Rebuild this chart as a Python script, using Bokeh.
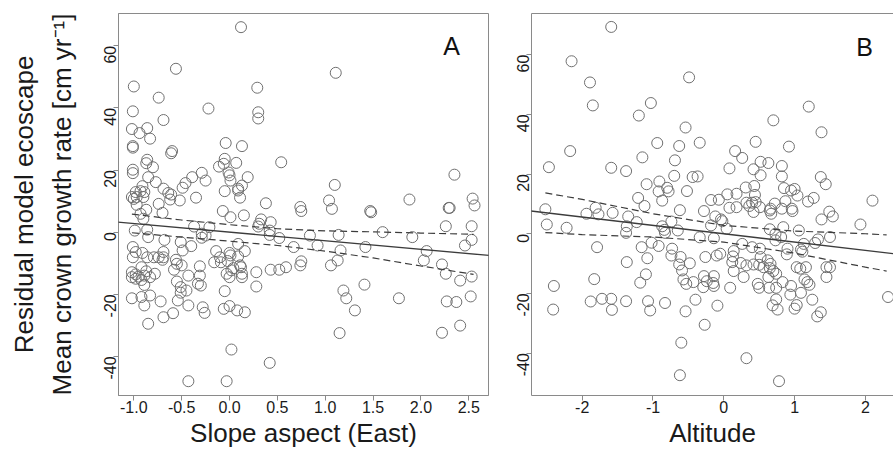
import math
from bokeh.plotting import figure
from bokeh.models import Range1d, LinearAxis, FixedTicker, Slope, Label, PrintfTickFormatter
from bokeh.layouts import row
from bokeh.embed import file_html
from bokeh.resources import INLINE

# ---------------- data ----------------
aspect_x = [
    0.12, -0.56, 1.11, -1.00, 0.29, -0.74, -0.22, -1.01, 0.30, 0.30,
    -0.69, -1.02, -0.86, -0.94, -0.83, -0.04, -1.01, -1.01, 0.13, -0.60,
    -0.61, -0.86, -0.05, -0.87, -0.06, 0.07, 0.54, -0.80, -0.11, -1.01,
    -1.01, -0.01, -0.29, 0.00, -0.85, -0.39, 0.19, -0.25, 0.01, -0.46,
    -0.77, 0.13, 1.10, -0.91, -0.49, -0.69, 0.09, -0.05, 0.09, -0.98,
    -0.93, -0.89, -0.64, -0.61, -1.02, -0.97, -0.90, -1.00, 0.11, -0.62,
    -0.52, -0.35, 1.04, 1.88, 0.38, -0.97, -0.74, 1.07, 0.74, 0.75,
    2.29, 2.30, -0.87, 1.47, 1.48, -0.07, -0.70, 0.15, 0.01, -0.93,
    0.33, 0.43, -0.90, 0.31, -0.37, -0.21, 0.30, 2.26, -0.99, -0.86,
    0.42, 1.60, -0.29, -0.25, 0.42, 1.14, 0.84, 1.91, -0.85, 0.52,
    -0.68, -0.29, 0.09, -0.51, -0.40, -1.01, 0.67, 0.92, 1.42, 1.16,
    2.06, -0.49, -0.98, -0.91, -0.14, 0.00, 0.16, 0.01, -1.01, -0.86,
    -0.79, -0.74, -0.69, -0.69, 0.09, -0.56, -0.70, -0.10, -0.09, -0.02,
    -0.16, 2.03, -0.55, 0.75, 0.74, -0.31, -0.50, 0.11, 1.06, 1.13,
    2.22, 0.12, -0.58, 0.04, 0.43, 0.52, 0.59, 0.02, -1.02, -0.92,
    -0.98, -0.87, -0.78, 0.13, 0.28, 2.26, -0.95, -0.89, -0.43, -0.31,
    -0.03, -1.02, -0.83, 0.00, 0.13, -0.98, -0.92, -0.55, -0.30, -0.33,
    -0.89, -0.51, 0.28, 1.41, 1.19, -0.51, -0.05, -1.02, -0.92, -0.83,
    1.22, 1.77, -0.45, -0.54, -0.72, 2.27, 2.37, -0.89, -0.43, -0.28,
    0.00, -0.06, 0.08, -0.26, 0.16, 1.31, -0.59, -0.69, -0.85, 2.41,
    1.15, 2.22, 0.02, 0.42, -0.43, -0.03, 2.41, 2.54, 2.56, 2.53,
    2.53, 2.46, 2.53, 2.52, 2.35,
]
aspect_y = [
    66.0, 52.6, 51.3, 46.9, 46.5, 43.3, 39.8, 38.9, 38.6, 36.6,
    36.1, 33.2, 33.5, 31.9, 30.1, 28.7, 27.7, 27.2, 27.7, 26.1,
    25.4, 23.3, 23.6, 22.2, 22.0, 22.3, 22.5, 20.9, 21.1, 20.1,
    19.0, 19.2, 19.1, 18.3, 17.7, 17.7, 17.7, 16.6, 16.6, 15.8,
    16.1, 15.0, 15.2, 14.8, 14.3, 14.0, 14.0, 13.2, 13.4, 12.9,
    13.2, 12.9, 12.6, 12.1, 11.3, 11.3, 11.3, 10.7, 11.1, 10.5,
    10.2, 11.1, 10.2, 10.5, 9.3, 8.8, 9.1, 7.5, 8.1, 6.8,
    7.8, 7.8, 7.2, 6.8, 6.4, 6.8, 6.2, 5.4, 4.8, 5.9,
    4.1, 3.2, 4.3, 2.7, 1.8, 1.6, 1.8, 1.9, 0.5, 0.8,
    0.5, 0.0, -0.5, -1.1, -0.9, -0.9, -1.1, -1.6, -1.6, -1.9,
    -2.5, -1.8, -3.8, -3.2, -4.5, -4.8, -4.8, -4.3, -4.8, -5.9,
    -6.1, -5.9, -6.4, -6.7, -6.1, -6.7, -6.1, -7.5, -8.1, -8.1,
    -8.1, -8.1, -8.1, -6.4, -7.8, -8.9, -8.9, -8.1, -9.7, -9.3,
    -9.7, -9.1, -10.2, -9.4, -10.7, -11.0, -10.7, -10.7, -10.7, -9.1,
    -10.4, -11.3, -12.1, -11.6, -12.1, -12.1, -11.3, -12.3, -12.9, -11.3,
    -13.6, -12.6, -13.4, -13.4, -12.9, -13.4, -14.3, -14.0, -14.0, -14.0,
    -13.4, -14.5, -14.5, -14.5, -14.5, -15.0, -15.4, -15.9, -17.2, -16.6,
    -17.0, -17.7, -17.5, -16.9, -18.8, -19.5, -19.0, -21.3, -20.9, -20.4,
    -21.3, -21.3, -18.8, -22.0, -22.3, -22.3, -22.5, -23.6, -23.6, -24.2,
    -23.8, -24.7, -25.2, -26.0, -25.8, -25.2, -26.1, -27.4, -29.5, -30.1,
    -32.5, -32.4, -37.8, -42.1, -48.0, -48.0, -15.6, 10.8, 8.6, 1.9,
    -2.5, -4.3, -14.3, -20.7, 18.5,
]

alt_x = [
    -1.59, -2.15, -0.49, -1.89, -1.85, -1.03, 1.20, -1.20, 0.70, -0.54,
    1.38, -0.94, -0.34, 0.45, -0.63, 0.92, -2.17, 0.16, 0.26, -1.15,
    -0.69, 0.52, 0.63, -2.47, -1.59, 0.82, -1.38, 0.08, 0.42, -0.70,
    0.52, -0.44, -0.37, 0.82, 1.37, -1.09, -0.91, 1.44, 0.43, 0.31,
    0.85, -0.80, -0.92, -0.78, -0.52, 0.95, 1.00, 0.18, 1.04, 0.05,
    0.44, -1.21, 1.27, -0.18, -0.07, -0.87, 2.10, 0.32, 0.40, 0.87,
    1.19, -1.12, 0.36, 0.45, 0.72, 0.08, 0.18, -1.81, 0.51, 0.66,
    0.82, -2.52, 0.96, 0.65, 0.97, -0.62, 0.42, 0.67, -0.28, -1.57,
    -1.94, -1.77, 1.49, 1.54, -0.12, -1.35, 1.38, -0.04, -0.02, -1.23,
    -0.74, -0.18, -2.50, 1.93, -1.37, -0.87, 0.84, -2.22, -0.84, -0.65,
    0.04, 0.65, 1.06, -1.38, -0.83, 0.73, -0.34, -0.14, 0.81, 1.50,
    1.33, 0.73, -1.02, -0.92, 1.13, 1.29, 0.26, -1.16, 0.40, -0.73,
    0.51, -1.79, 0.90, 1.09, 0.14, 1.11, -0.74, -0.10, -0.05, -0.61,
    0.13, -0.26, -1.08, 0.89, 0.52, 0.62, 0.12, 0.24, -0.48, -0.63,
    0.42, 0.32, 0.50, 0.66, 0.56, -1.37, 1.50, 0.65, 0.70, 1.03,
    1.08, 1.16, -0.59, 0.14, -1.10, 0.74, 0.28, 1.45, -0.28, -0.14,
    0.63, -0.57, -1.83, 1.14, -0.43, -0.24, -0.53, -1.18, -0.15, 0.83,
    0.48, 1.18, 1.21, -0.14, 0.50, 0.95, 0.09, -0.29, -2.40, 0.64,
    0.74, 1.09, 0.94, -1.88, -1.72, -1.59, -1.38, -1.07, -0.83, -0.40,
    0.74, 1.25, 2.32, -2.41, -1.58, -1.04, -0.54, -0.09, 0.69, 0.76,
    1.00, 1.03, 1.37, 1.32, -0.27, -0.60, 0.32, -0.62, 0.78, 1.45,
]
alt_y = [
    69.3, 57.8, 52.4, 50.7, 43.0, 43.8, 42.6, 39.6, 38.0, 35.6,
    34.0, 30.4, 30.5, 30.8, 29.4, 29.2, 27.7, 27.7, 25.4, 25.6,
    24.6, 24.1, 23.7, 22.3, 22.1, 22.7, 21.0, 21.9, 21.6, 19.4,
    19.6, 19.0, 19.2, 19.2, 19.0, 16.6, 17.5, 16.6, 16.0, 15.5,
    15.3, 15.4, 14.2, 14.2, 14.3, 14.5, 15.0, 13.4, 12.8, 13.2,
    13.0, 12.0, 12.0, 11.3, 11.4, 11.1, 11.1, 10.4, 10.4, 10.9,
    10.8, 9.3, 9.3, 10.6, 10.1, 8.7, 8.9, 8.7, 8.9, 8.4,
    8.4, 8.2, 8.4, 7.8, 7.6, 7.9, 7.3, 6.7, 7.6, 7.0,
    6.7, 6.5, 7.4, 5.8, 5.8, 5.8, 4.8, 4.8, 4.2, 3.9,
    4.1, 2.8, 3.1, 3.1, 2.5, 2.5, 2.2, 2.0, 1.3, 1.1,
    1.7, 1.5, 1.1, 0.3, 0.3, 0.0, -1.2, -1.5, -1.1, -1.1,
    -1.9, -2.2, -3.0, -4.1, -3.4, -3.1, -3.4, -4.5, -4.5, -5.0,
    -5.0, -4.5, -5.0, -5.3, -5.8, -6.0, -7.3, -7.3, -6.7, -7.8,
    -7.6, -7.8, -8.2, -6.9, -7.8, -8.9, -9.5, -9.8, -9.9, -10.3,
    -10.3, -10.6, -10.4, -10.1, -11.2, -9.5, -11.2, -11.5, -12.5, -11.2,
    -11.7, -11.2, -12.3, -12.5, -13.6, -13.4, -14.5, -14.5, -14.2, -14.2,
    -14.5, -15.3, -15.2, -15.3, -16.2, -15.9, -16.8, -16.4, -16.5, -16.2,
    -16.8, -16.2, -17.1, -17.5, -18.1, -17.5, -18.1, -17.9, -17.5, -18.1,
    -18.1, -19.8, -20.4, -22.7, -21.8, -21.8, -22.6, -22.6, -23.2, -22.1,
    -22.0, -22.1, -21.2, -25.4, -25.5, -25.7, -26.0, -24.1, -24.0, -25.4,
    -25.1, -23.9, -26.3, -27.7, -30.5, -36.5, -41.7, -47.4, -49.4, -11.2,
]

# fitted regression lines (intercept, slope)
aspect_fit = (0.0, -2.77)
alt_fit = (0.0, -2.80)

# confidence band (dashed)
aspect_band_x = [-1.02, -0.5, 0.0, 0.5, 1.0, 1.5, 2.0, 2.55]
aspect_band_hi = [5.8, 3.9, 2.4, 1.1, 0.4, 0.1, -0.3, -0.7]
aspect_band_lo = [-0.2, -1.6, -2.9, -4.3, -6.1, -8.3, -10.9, -13.6]

alt_band_x = [-2.52, -2.0, -1.0, 0.0, 1.0, 2.0, 2.3]
alt_band_hi = [13.7, 11.5, 6.7, 2.8, 0.9, 0.0, -0.4]
alt_band_lo = [0.4, -0.3, -1.1, -2.8, -6.5, -11.2, -12.5]

aspect_ticks = [-1.0, -0.5, 0.0, 0.5, 1.0, 1.5, 2.0, 2.5]
alt_ticks = [-2, -1, 0, 1, 2]
y_ticks = [-40, -20, 0, 20, 40, 60]

# ---------------- styling ----------------
FONT = "Liberation Sans"
BOX = "#8a8a8a"
PT = "#707070"
LN = "#3c3c3c"
TXT = "#1a1a1a"
H = 450
TOP = 13
FRAME_H = 382


def make_fig(width, min_left, min_right, xr, yr):
    p = figure(width=width, height=H, x_range=Range1d(*xr), y_range=Range1d(*yr),
               output_backend="svg", toolbar_location=None,
               min_border_left=min_left, min_border_right=min_right,
               min_border_top=TOP, min_border_bottom=H - TOP - FRAME_H)
    p.grid.visible = False
    p.outline_line_color = BOX
    p.outline_line_width = 1
    p.background_fill_color = "white"
    p.border_fill_color = "white"
    return p


def style_axis(ax, ticks, fmt, vertical=False):
    ax.ticker = FixedTicker(ticks=ticks)
    ax.formatter = PrintfTickFormatter(format=fmt)
    ax.major_tick_out = 5
    ax.major_tick_in = 0
    ax.minor_tick_out = 0
    ax.minor_tick_in = 0
    ax.axis_line_color = BOX
    ax.major_tick_line_color = BOX
    ax.major_label_text_font = FONT
    ax.major_label_text_font_size = "16px"
    ax.major_label_text_color = TXT
    ax.axis_label_text_font = FONT
    ax.axis_label_text_font_size = "26px"
    ax.axis_label_text_font_style = "normal"
    ax.axis_label_text_color = TXT
    if vertical:
        ax.major_label_orientation = math.pi / 2
        ax.major_label_standoff = 3
        ax.axis_label_standoff = 19
    else:
        ax.major_label_standoff = 0
        ax.axis_label_standoff = 2


def draw_panel(p, xs, ys, fit, bx, bhi, blo):
    p.scatter(xs, ys, size=11, fill_color=None, line_color=PT, line_width=1)
    p.add_layout(Slope(gradient=fit[1], y_intercept=fit[0], line_color=LN, line_width=1.3))
    p.line(bx, bhi, line_color=LN, line_width=1.2, line_dash="7 4")
    p.line(bx, blo, line_color=LN, line_width=1.2, line_dash="7 4")


# ---- panel A ----
p1 = make_fig(498, 118, 10, (-1.16, 2.706), (-52.6, 70.4))
draw_panel(p1, aspect_x, aspect_y, aspect_fit, aspect_band_x, aspect_band_hi, aspect_band_lo)
xa1 = p1.below[0]
style_axis(xa1, aspect_ticks, "%.1f")
xa1.axis_label = "Slope aspect (East)"
ya1 = p1.left[0]
style_axis(ya1, y_ticks, "%d", vertical=True)
ya1.axis_label = "Mean crown growth rate [cm yr\u207b\u00b9]"
outer = LinearAxis(ticker=FixedTicker(ticks=[]), axis_label="Residual model ecoscape",
                   axis_line_color=None, major_tick_out=0, major_tick_in=0,
                   minor_tick_out=0, minor_tick_in=0, major_label_standoff=0,
                   major_label_text_font_size="0px", axis_label_standoff=5,
                   axis_label_text_font=FONT, axis_label_text_font_size="26px",
                   axis_label_text_font_style="normal", axis_label_text_color=TXT)
p1.add_layout(outer, "left")
p1.add_layout(Label(x=2.32, y=55.3, text="A", text_font=FONT, text_font_size="25px",
                    text_align="center", text_color="#111"))

# ---- panel B ----
p2 = make_fig(395, 33, 0, (-2.716, 2.397), (-54.2, 73.8))
draw_panel(p2, alt_x, alt_y, alt_fit, alt_band_x, alt_band_hi, alt_band_lo)
xa2 = p2.below[0]
style_axis(xa2, alt_ticks, "%d")
xa2.axis_label = "Altitude"
ya2 = p2.left[0]
style_axis(ya2, y_ticks, "%d", vertical=True)
# box without a right side (the reference's right edge is cut off)
p2.outline_line_color = None
top_line = LinearAxis(ticker=FixedTicker(ticks=[]), axis_line_color=BOX,
                      major_tick_out=0, major_tick_in=0, minor_tick_out=0, minor_tick_in=0,
                      major_label_standoff=0, major_label_text_font_size="0px",
                      axis_label_standoff=0)
p2.add_layout(top_line, "above")
p2.add_layout(Label(x=1.99, y=58.0, text="B", text_font=FONT, text_font_size="25px",
                    text_align="center", text_color="#111"))

layout = row(p1, p2)
open("out.html", "w").write(file_html(layout, INLINE))
